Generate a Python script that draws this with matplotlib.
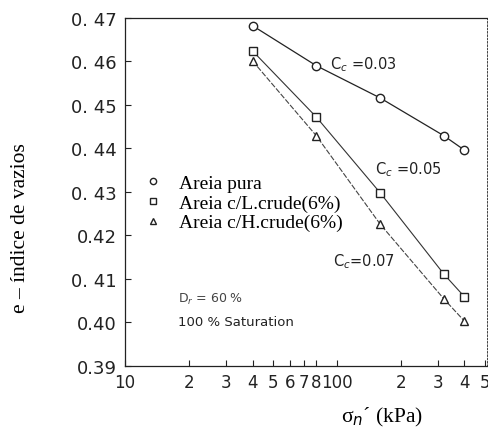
import numpy as np
import matplotlib
matplotlib.use("Agg")
import matplotlib.pyplot as plt
from matplotlib.ticker import FixedLocator, NullFormatter, NullLocator

# values
stress = [40, 80, 160, 320, 400]  # kPa
e_pura = [0.4682, 0.4590, 0.4516, 0.4429, 0.4396]
e_lcrude = [0.4624, 0.4472, 0.4298, 0.4111, 0.4059]
e_hcrude = [0.4601, 0.4429, 0.4226, 0.4054, 0.4003]

labels = ["Areia pura", "Areia c/L.crude(6%)", "Areia c/H.crude(6%)"]
cc_text = ["C$_c$ =0.03", "C$_c$ =0.05", "C$_c$=0.07"]

xtick_vals = [10, 20, 30, 40, 50, 60, 70, 80, 100, 200, 300, 400, 500]
xtick_lbls = ["10", "2", "3", "4", "5", "6", "7", "8", "100", "2", "3", "4", "5"]
ytick_vals = [0.39, 0.40, 0.41, 0.42, 0.43, 0.44, 0.45, 0.46, 0.47]
ytick_lbls = ["0.39", "0.40", "0. 41", "0.42", "0. 43", "0. 44", "0. 45", "0. 46", "0. 47"]

serif = "Liberation Serif"

fig = plt.figure(figsize=(4.89, 4.39), dpi=100)
ax = fig.add_axes([0.2556, 0.164, 0.740, 0.793])

ax.plot(stress, e_pura, color="#222222", lw=0.9, marker="o", ms=6,
        mfc="white", mec="#222222", mew=1.0, label=labels[0])
ax.plot(stress, e_lcrude, color="#333333", lw=0.8, marker="s", ms=6,
        mfc="white", mec="#222222", mew=1.0, label=labels[1])
ax.plot(stress, e_hcrude, color="#444444", lw=0.8, ls=(0, (5, 1.5)), marker="^", ms=5.5,
        mfc="white", mec="#222222", mew=1.0, label=labels[2])

ax.set_xscale("log")
ax.set_xlim(10, 510)
ax.set_ylim(0.39, 0.47)

ax.xaxis.set_major_locator(FixedLocator(xtick_vals))
ax.xaxis.set_minor_locator(NullLocator())
ax.xaxis.set_minor_formatter(NullFormatter())
ax.set_xticklabels(xtick_lbls)
ax.set_yticks(ytick_vals)
ax.set_yticklabels(ytick_lbls)
ax.tick_params(axis="both", direction="in", length=4, width=0.8, colors="#222222")
ax.tick_params(axis="y", pad=6, labelsize=13)
ax.tick_params(axis="x", pad=5, labelsize=12)

for s in ax.spines.values():
    s.set_linewidth(0.9)
    s.set_color("#222222")
ax.spines["left"].set_linestyle((0, (3, 1)))
ax.spines["right"].set_linestyle((0, (2, 2)))
ax.spines["right"].set_linewidth(0.6)

ax.set_xlabel("σ$_n$´ (kPa)", family=serif, fontsize=15.5, labelpad=10, x=0.71)
ax.set_ylabel("e – índice de vazios", family=serif, fontsize=15.5)
ax.yaxis.set_label_coords(-0.262, 0.40)

leg = ax.legend(loc="upper left", bbox_to_anchor=(0.078, 0.55), frameon=False,
                prop={"family": serif, "size": 14}, handlelength=0,
                handletextpad=1.35, labelspacing=0.1, borderaxespad=0,
                borderpad=0)
for h in leg.legend_handles:
    h.set_linestyle("none")
    h.set_markersize(4.5)

ax.text(0.566, 0.868, cc_text[0], transform=ax.transAxes, fontsize=10.5,
        va="center", color="#222222")
ax.text(0.69, 0.566, cc_text[1], transform=ax.transAxes, fontsize=10.5,
        va="center", color="#222222")
ax.text(0.575, 0.302, cc_text[2], transform=ax.transAxes, fontsize=10.5,
        va="center", color="#222222")
ax.text(0.146, 0.193, "D$_r$ = 60 %", transform=ax.transAxes, fontsize=9,
        va="center", color="#444444")
ax.text(0.146, 0.129, "100 % Saturation", transform=ax.transAxes, fontsize=9.5,
        va="center", color="#222222")

fig.savefig("out.png", dpi=100)
